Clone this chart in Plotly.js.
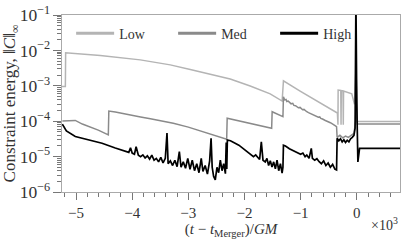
<!DOCTYPE html>
<html>
<head>
<meta charset="utf-8">
<script src="https://cdn.plot.ly/plotly-3.0.1.min.js"></script>
<style>html,body{margin:0;padding:0;background:#fff;}#chart{width:415px;height:241px;}</style>
</head>
<body>
<div id="chart"></div>
<script>
// time in units of 10^3 GM relative to merger
const tLow = [-5.25, -5.19, -5.185, -4.568, -3.856, -3.322, -2.966, -2.610, -2.254, -1.898, -1.542, -1.329,
  -1.306, -1.009, -0.653, -0.368, -0.345, -0.335, -0.332, -0.285, -0.28, -0.275, -0.245, -0.24, -0.235,
  -0.089, -0.04, -0.015, 0.005, 0.023, 0.77];
const cLow = [9.5e-4, 9.5e-4, 8.6e-3, 7.2e-3, 5.4e-3, 3.9e-3, 2.9e-3, 2.15e-3, 1.56e-3, 9.9e-4, 5.9e-4, 3.7e-4,
  1.39e-3, 7.1e-4, 3.3e-4, 1.76e-4, 1.7e-4, 8e-5, 7.6e-4, 7.4e-4, 8e-5, 7.3e-4, 7.2e-4, 8e-5, 7.1e-4,
  5.9e-4, 3.0e-4, 3.0e-3, 1.0e-4, 9.8e-5, 9.8e-5];

const tMed = [-5.244, -5.013, -4.888, -4.604, -4.425,
  -4.416, -4.30, -4.158, -4.00, -3.85, -3.676, -3.50, -3.268, -3.0, -2.663, -2.317,
  -2.308, -2.10, -1.898, -1.70, -1.516,
  -1.507, -1.40, -1.315,
  -1.306, -1.285, -1.26, -1.245, -1.22, -1.19, -1.17, -1.14, -1.12, -1.09, -1.06, -1.04, -1.01, -0.98, -0.965,
  -0.94, -0.91, -0.89, -0.86, -0.835, -0.82, -0.79, -0.76, -0.74, -0.71, -0.685, -0.66, -0.64, -0.61, -0.58,
  -0.56, -0.53, -0.51, -0.48, -0.455, -0.43, -0.40, -0.38, -0.36,
  -0.35, -0.30, -0.25, -0.20, -0.15, -0.10, -0.05, -0.02, -0.008, 0.01, 0.77];
const cMed = [1.01e-4, 1.05e-4, 8.3e-5, 5.6e-5, 4.1e-5,
  1.94e-4, 1.82e-4, 1.67e-4, 1.45e-4, 1.32e-4, 1.17e-4, 1.05e-4, 8.7e-5, 6.8e-5, 4.6e-5, 3.1e-5,
  1.21e-4, 1.02e-4, 8.6e-5, 7.4e-5, 6.3e-5,
  1.85e-4, 1.58e-4, 1.34e-4,
  4.9e-4, 4.0e-4, 4.1e-4, 3.6e-4, 3.7e-4, 3.3e-4, 3.1e-4, 3.2e-4, 2.8e-4, 2.75e-4, 2.6e-4, 2.4e-4, 2.45e-4, 2.2e-4, 2.1e-4,
  2.15e-4, 1.9e-4, 1.85e-4, 1.75e-4, 1.68e-4, 1.7e-4, 1.55e-4, 1.5e-4, 1.45e-4, 1.38e-4, 1.3e-4, 1.32e-4, 1.2e-4, 1.15e-4, 1.12e-4,
  1.05e-4, 1.0e-4, 9.8e-5, 9.2e-5, 8.8e-5, 8.4e-5, 8.0e-5, 7.4e-5, 7.0e-5,
  3.5e-5, 4.0e-5, 3.4e-5, 3.8e-5, 3.5e-5, 4.0e-5, 4.5e-5, 1.0e-4, 1.5e-3, 8.3e-5, 8.3e-5];

const tHigh = [-5.244, -5.208, -5.172, -5.013, -4.781, -4.537, -4.301, -4.087,
  -4.06, -4.03, -4.00, -3.96, -3.93, -3.89, -3.85, -3.81, -3.77, -3.73, -3.69, -3.65, -3.61, -3.57, -3.53,
  -3.49, -3.45, -3.41, -3.38, -3.36, -3.32, -3.28, -3.24, -3.20, -3.16, -3.13, -3.09, -3.05, -3.01, -2.97,
  -2.93, -2.89, -2.85, -2.81, -2.77, -2.74, -2.70, -2.66, -2.62, -2.595, -2.575, -2.55, -2.52, -2.49, -2.46,
  -2.43, -2.40, -2.37, -2.34, -2.325, -2.315,
  -2.305, -2.25, -2.10, -2.02, -1.92, -1.84, -1.80, -1.73, -1.70, -1.67, -1.63, -1.60, -1.57, -1.54, -1.51,
  -1.48, -1.45, -1.42, -1.39, -1.36, -1.33, -1.315,
  -1.306, -1.27, -1.20, -1.12, -1.06, -1.00, -0.96, -0.92, -0.89, -0.85, -0.81, -0.79, -0.75, -0.71, -0.67,
  -0.63, -0.59, -0.55, -0.51, -0.47, -0.43, -0.39, -0.36,
  -0.35, -0.32, -0.29, -0.26, -0.23, -0.20, -0.17, -0.14, -0.11, -0.08, -0.05, -0.03, -0.015, 0.00, 0.02, 0.05, 0.77];
const cHigh = [8.3e-5, 6.5e-5, 5.3e-5, 3.7e-5, 2.95e-5, 2.38e-5, 1.75e-5, 1.37e-5,
  1.32e-5, 1.78e-5, 1.26e-5, 1.17e-5, 1.9e-5, 1.1e-5, 1.0e-5, 1.12e-5, 9.1e-6, 1.05e-5, 8.5e-6, 1.1e-5, 7.9e-6, 8.9e-6, 7.1e-6,
  9.5e-6, 6.6e-6, 8.9e-6, 4.6e-5, 6.3e-6, 7.6e-6, 5.6e-6, 7.9e-6, 5.2e-6, 1.38e-5, 5.0e-6, 7.1e-6, 4.7e-6, 8.9e-6, 4.4e-6,
  7.9e-6, 4.0e-6, 6.3e-6, 3.5e-6, 8.9e-6, 3.8e-6, 5.6e-6, 3.2e-6, 7.6e-6, 3.3e-5, 5.0e-6, 2.8e-6, 2.2e-6, 5.0e-6, 3.5e-6,
  7.9e-6, 4.0e-6, 6.3e-6, 3.3e-6, 2.5e-5, 4.5e-6,
  2.95e-5, 2.8e-5, 2.1e-5, 1.7e-5, 1.26e-5, 1.0e-5, 1.12e-5, 8.3e-6, 2.6e-5, 7.9e-6, 7.1e-6, 8.9e-6, 5.6e-6, 7.6e-6, 5.1e-6,
  7.1e-6, 4.5e-6, 7.9e-6, 4.0e-6, 6.3e-6, 3.4e-6, 5.0e-6,
  2.1e-5, 2.0e-5, 1.66e-5, 1.45e-5, 1.32e-5, 1.17e-5, 1.26e-5, 1.0e-5, 1.1e-5, 8.9e-6, 1.7e-5, 8.9e-6, 7.9e-6, 8.7e-6, 7.2e-6,
  6.3e-6, 7.6e-6, 5.6e-6, 6.6e-6, 5.0e-6, 6.0e-6, 4.4e-6, 4.2e-6,
  3.3e-5, 2.8e-5, 3.2e-5, 2.6e-5, 3.0e-5, 2.5e-5, 2.9e-5, 2.6e-5, 3.2e-5, 3.5e-5, 4.0e-5, 6.3e-5, 0.32, 3.2e-4, 7.1e-6, 1.7e-5, 1.7e-5];

const seriesNames = ['Low', 'Med', 'High'];
const xTickVals = [-5, -4, -3, -2, -1, 0];

const FONT = 'Liberation Serif, Times New Roman, serif';
const colors = {Low: '#b4b4b4', Med: '#8a8a8a', High: '#000000'};

const data = [
  {x: tLow, y: cLow, type: 'scatter', mode: 'lines', line: {color: colors.Low, width: 1.5}, showlegend: false, hoverinfo: 'skip'},
  {x: tMed, y: cMed, type: 'scatter', mode: 'lines', line: {color: colors.Med, width: 1.5}, showlegend: false, hoverinfo: 'skip'},
  {x: tHigh, y: cHigh, type: 'scatter', mode: 'lines', line: {color: colors.High, width: 1.7}, showlegend: false, hoverinfo: 'skip'}
];
seriesNames.forEach(n => data.push({x: [null], y: [null], type: 'scatter', mode: 'lines', name: n,
  line: {color: colors[n], width: 3}, showlegend: true}));

const layout = {
  width: 415, height: 241,
  margin: {l: 62, r: 15, t: 15, b: 49},
  paper_bgcolor: '#fff', plot_bgcolor: '#fff',
  font: {family: FONT, size: 14, color: '#222'},
  showlegend: true,
  legend: {orientation: 'h', x: 0.027, y: 0.985, xanchor: 'left', yanchor: 'top',
    entrywidth: 49, entrywidthmode: 'pixels', itemwidth: 38,
    font: {family: FONT, size: 14, color: '#333'}, bgcolor: 'rgba(0,0,0,0)'},
  xaxis: {
    range: [-5.25, 0.77], tickvals: xTickVals, ticks: 'outside', ticklen: 7, tickwidth: 1, tickcolor: '#777',
    showline: true, linecolor: '#aaa', linewidth: 1, mirror: true, showgrid: false, zeroline: false,
    tickfont: {family: FONT, size: 15, color: '#333'},
    minor: {dtick: 0.2, tick0: 0, ticks: 'outside', ticklen: 4, tickcolor: '#777', showgrid: false},
    title: {text: '(<i>t</i> − <i>t</i><sub>Merger</sub>)/<i>GM</i>', font: {family: FONT, size: 15, color: '#333'}, standoff: 1}
  },
  yaxis: {
    type: 'log', range: [-6, -1], dtick: 1, exponentformat: 'power', ticks: 'outside', ticklen: 8, tickwidth: 1, tickcolor: '#777',
    showline: true, linecolor: '#aaa', linewidth: 1, mirror: true, showgrid: false, zeroline: false,
    tickfont: {family: FONT, size: 14, color: '#333'},
    minor: {dtick: 'D1', ticks: 'outside', ticklen: 4, tickcolor: '#777', showgrid: false},
    title: {text: 'Constraint energy, ‖<i>C</i>‖<sub>∞</sub>', font: {family: FONT, size: 17, color: '#333'}, standoff: 3}
  },
  annotations: [{text: '×10<sup>3</sup>', xref: 'paper', yref: 'paper', x: 1, y: -0.18, xanchor: 'right', yanchor: 'middle',
    showarrow: false, font: {family: FONT, size: 14, color: '#333'}}]
};

Plotly.newPlot('chart', data, layout, {staticPlot: true, displayModeBar: false});
</script>
</body>
</html>
